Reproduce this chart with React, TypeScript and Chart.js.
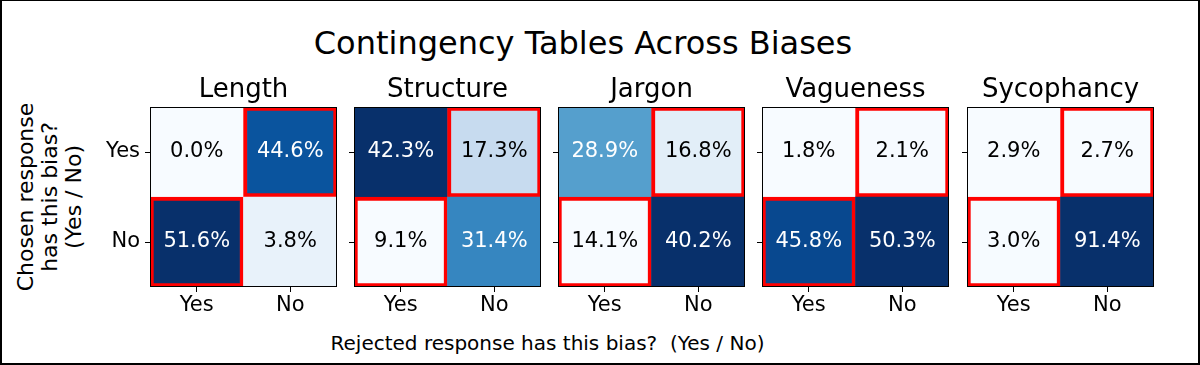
import React, { useEffect, useRef } from 'react';
import { Chart, registerables } from 'chart.js';

Chart.register(...registerables);

// ---------- data ----------
const biases = ['Length', 'Structure', 'Jargon', 'Vagueness', 'Sycophancy'];
const rejectedLabels = ['Yes', 'No']; // x categories (rejected response has bias)
const chosenLabels = ['Yes', 'No']; // y rows (chosen response has bias)
// percentages, one entry per bias
const chosenYesRejectedYes = [0.0, 42.3, 28.9, 1.8, 2.9];
const chosenYesRejectedNo = [44.6, 17.3, 16.8, 2.1, 2.7];
const chosenNoRejectedYes = [51.6, 9.1, 14.1, 45.8, 3.0];
const chosenNoRejectedNo = [3.8, 31.4, 40.2, 50.3, 91.4];
const figTitle = 'Contingency Tables Across Biases';
const xAxisTitle = 'Rejected response has this bias?  (Yes / No)';
const yAxisTitle = ['Chosen response', 'has this bias?', '(Yes / No)'];

// ---------- style ----------
const FONT = '"DejaVu Sans", sans-serif';
const RED = '#ff0000';
const CLEAR = 'rgba(0,0,0,0)';
const BLUES = ['#f7fbff', '#deebf7', '#c6dbef', '#9ecae1', '#6baed6', '#4292c6', '#2171b5', '#08519c', '#08306b'];

const AREA_LEFT0 = 150;
const AREA_STEP = 204.15;
const AREA_W = 187;
const AREA_H = 180;
const SIDE = 60;
const TOP_BLOCK = 40;
const BOTTOM_BLOCK = 40;
const CANVAS_TOP = 67;

function hexToRgb(h: string) {
  const n = parseInt(h.slice(1), 16);
  return [(n >> 16) & 255, (n >> 8) & 255, n & 255];
}
function blues(t: number) {
  const c = Math.max(0, Math.min(1, t)) * (BLUES.length - 1);
  const i = Math.min(Math.floor(c), BLUES.length - 2);
  const f = c - i;
  const a = hexToRgb(BLUES[i]);
  const b = hexToRgb(BLUES[i + 1]);
  const m = a.map((v, k) => Math.round(v + (b[k] - v) * f));
  return `rgb(${m[0]},${m[1]},${m[2]})`;
}

Chart.defaults.font.family = FONT;
Chart.defaults.color = '#000';

const cellPlugin = {
  id: 'cellText',
  afterDatasetsDraw(chart: any) {
    const { ctx, chartArea: a } = chart;
    ctx.save();
    ctx.strokeStyle = '#000';
    ctx.lineWidth = 1;
    ctx.strokeRect(Math.round(a.left) + 0.5, Math.round(a.top) + 0.5, Math.round(a.right) - Math.round(a.left) - 1, Math.round(a.bottom) - Math.round(a.top) - 1);
    ctx.font = `21px ${FONT}`;
    ctx.textAlign = 'center';
    ctx.textBaseline = 'middle';
    chart.data.datasets.forEach((ds: any, di: number) => {
      const meta = chart.getDatasetMeta(di);
      meta.data.forEach((el: any, i: number) => {
        const v = ds.pct[i];
        ctx.fillStyle = ds.norm[i] > 0.5 ? '#ffffff' : '#000000';
        ctx.fillText(`${v.toFixed(1)}%`, el.x, (el.y + el.base) / 2);
      });
    });
    ctx.restore();
  },
};

function Panel({ index }: { index: number }) {
  const ref = useRef<HTMLCanvasElement>(null);
  useEffect(() => {
    const yesRow = [chosenYesRejectedYes[index], chosenYesRejectedNo[index]];
    const noRow = [chosenNoRejectedYes[index], chosenNoRejectedNo[index]];
    const all = [...yesRow, ...noRow];
    const lo = Math.min(...all);
    const hi = Math.max(...all);
    const norm = (v: number) => (hi > lo ? (v - lo) / (hi - lo) : 0);
    const chart = new Chart(ref.current as HTMLCanvasElement, {
      type: 'bar',
      data: {
        labels: rejectedLabels,
        datasets: [
          {
            label: chosenLabels[1],
            data: [1, 1],
            pct: noRow,
            norm: noRow.map(norm),
            backgroundColor: noRow.map((v) => blues(norm(v))),
            borderColor: [RED, CLEAR],
            borderWidth: [4, 0],
          } as any,
          {
            label: chosenLabels[0],
            data: [1, 1],
            pct: yesRow,
            norm: yesRow.map(norm),
            backgroundColor: yesRow.map((v) => blues(norm(v))),
            borderColor: [CLEAR, RED],
            borderWidth: [0, 4],
          } as any,
        ],
      },
      options: {
        responsive: false,
        animation: false,
        events: [],
        layout: { padding: { left: 0, right: SIDE, top: 0, bottom: 0 } },
        datasets: { bar: { barPercentage: 1, categoryPercentage: 1, borderSkipped: false } } as any,
        plugins: {
          legend: { display: false },
          tooltip: { enabled: false },
          title: {
            display: true,
            fullSize: false,
            text: biases[index],
            color: '#000',
            font: { size: 26, weight: 'normal' },
            padding: { top: 8, bottom: 0.8 },
          },
        },
        scales: {
          x: {
            stacked: true,
            offset: true,
            grid: { offset: false, drawOnChartArea: false, drawTicks: true, tickLength: 5, color: '#000' },
            border: { display: false },
            ticks: { color: '#000', font: { size: 21 }, padding: 1, maxRotation: 0, autoSkip: false },
            afterFit: (s: any) => {
              s.height = BOTTOM_BLOCK;
            },
          },
          y: {
            stacked: true,
            min: 0,
            max: 2,
            grid: { drawOnChartArea: false, drawTicks: true, tickLength: 5, color: '#000' },
            border: { display: false },
            ticks: {
              color: '#000',
              font: { size: 21 },
              padding: 5,
              autoSkip: false,
              callback: (v: any) => (index === 0 ? (v === 1.5 ? chosenLabels[0] : chosenLabels[1]) : ''),
            },
            afterBuildTicks: (s: any) => {
              s.ticks = [{ value: 0.5 }, { value: 1.5 }];
            },
            afterFit: (s: any) => {
              s.width = SIDE;
            },
          },
        },
      } as any,
      plugins: [cellPlugin],
    });
    return () => chart.destroy();
  }, [index]);
  const left = Math.round(AREA_LEFT0 + AREA_STEP * index - SIDE);
  return (
    <canvas
      ref={ref}
      width={AREA_W + 2 * SIDE}
      height={TOP_BLOCK + AREA_H + BOTTOM_BLOCK}
      style={{ position: 'absolute', left, top: CANVAS_TOP, display: 'block' }}
    />
  );
}

export default function App() {
  useEffect(() => {
    document.body.style.margin = '0';
  }, []);
  return (
    <div
      style={{
        position: 'fixed',
        left: 0,
        top: 0,
        width: 1200,
        height: 365,
        background: '#fff',
        fontFamily: FONT,
        color: '#000',
        overflow: 'hidden',
      }}
    >
      <div
        style={{
          position: 'absolute',
          left: 0,
          top: 0,
          width: 1200,
          height: 365,
          boxSizing: 'border-box',
          border: '2px solid #000',
          borderTopWidth: 1,
        }}
      />
      <div
        style={{
          position: 'absolute',
          left: 0,
          top: 27,
          width: 1166,
          textAlign: 'center',
          fontSize: 32,
          lineHeight: '32px',
          whiteSpace: 'pre',
        }}
      >
        {figTitle}
      </div>
      <div
        style={{
          position: 'absolute',
          left: 50.4,
          top: 197,
          width: 220,
          fontSize: 22,
          lineHeight: '24px',
          textAlign: 'center',
          transform: 'translate(-50%, -50%) rotate(-90deg)',
          whiteSpace: 'pre',
        }}
      >
        {yAxisTitle.map((l, i) => (
          <div key={i}>{l}</div>
        ))}
      </div>
      <div
        style={{
          position: 'absolute',
          left: 0,
          top: 333,
          width: 1095,
          textAlign: 'center',
          fontSize: 20,
          lineHeight: '20px',
          whiteSpace: 'pre',
        }}
      >
        {xAxisTitle}
      </div>
      {biases.map((_, i) => (
        <Panel key={i} index={i} />
      ))}
    </div>
  );
}
